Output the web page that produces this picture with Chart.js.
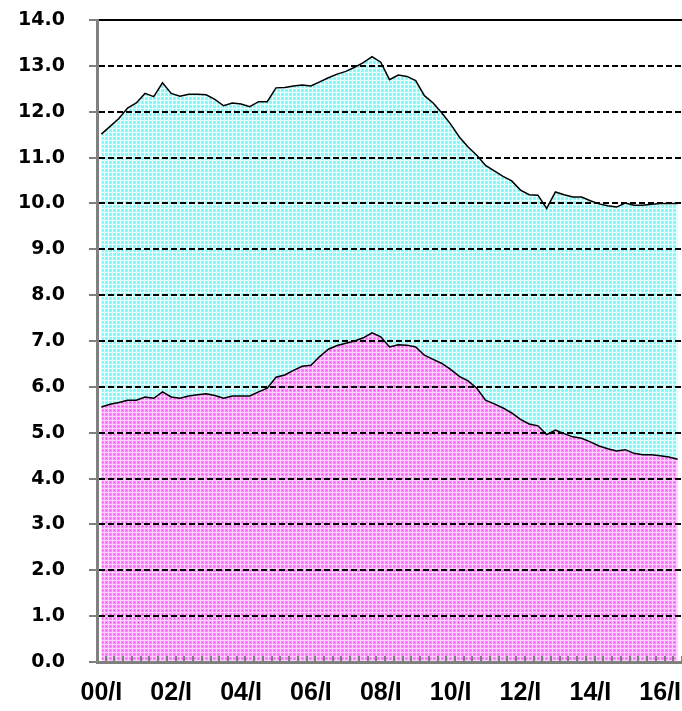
<!DOCTYPE html>
<html>
<head>
<meta charset="utf-8">
<script src="https://cdn.jsdelivr.net/npm/chart.js@4.4.1/dist/chart.umd.min.js"></script>
<style>
html, body { margin: 0; padding: 0; background: #fff; }
#chart { display: block; }
</style>
</head>
<body>
<canvas id="chart" width="682" height="711"></canvas>
<script>
// Quarterly series, 00/I .. 16/III
const years = ['00', '01', '02', '03', '04', '05', '06', '07', '08', '09', '10', '11', '12', '13', '14', '15', '16'];
const quarters = ['I', 'II', 'III', 'IV'];
const quarterCount = 67;

// upper (cyan) series
const totalValues = [
    11.51, 11.68, 11.85, 12.08, 12.19, 12.40, 12.33, 12.63, 12.40, 12.34,
    12.38, 12.38, 12.37, 12.27, 12.13, 12.19, 12.17, 12.11, 12.22, 12.22,
    12.52, 12.53, 12.56, 12.58, 12.56, 12.65, 12.74, 12.82, 12.88, 12.97,
    13.07, 13.20, 13.08, 12.70, 12.80, 12.77, 12.68, 12.35, 12.19, 11.97,
    11.73, 11.45, 11.23, 11.05, 10.83, 10.71, 10.59, 10.49, 10.29, 10.19,
    10.18, 9.89, 10.25, 10.19, 10.14, 10.14, 10.06, 9.99, 9.95, 9.92,
    10.01, 9.96, 9.96, 9.98, 10.00, 10.00, 10.00
];

// lower (magenta) series
const lowerValues = [
    5.56, 5.62, 5.66, 5.71, 5.71, 5.78, 5.75, 5.89, 5.78, 5.75,
    5.80, 5.83, 5.85, 5.81, 5.75, 5.80, 5.80, 5.80, 5.89, 5.97,
    6.21, 6.26, 6.36, 6.45, 6.47, 6.66, 6.82, 6.90, 6.95, 7.00,
    7.07, 7.18, 7.09, 6.87, 6.92, 6.91, 6.87, 6.69, 6.60, 6.51,
    6.38, 6.23, 6.13, 5.97, 5.71, 5.63, 5.54, 5.43, 5.29, 5.19,
    5.15, 4.96, 5.06, 4.98, 4.91, 4.88, 4.80, 4.71, 4.65, 4.60,
    4.63, 4.55, 4.52, 4.52, 4.50, 4.47, 4.42
];

const labels = [];
for (let i = 0; i < quarterCount; i++) {
    labels.push(years[Math.floor(i / 4)] + '/' + quarters[i % 4]);
}

// small textured fills like the original office chart
function makePattern(base, light, dark) {
    const c = document.createElement('canvas');
    c.width = 4; c.height = 4;
    const g = c.getContext('2d');
    g.fillStyle = base;
    g.fillRect(0, 0, 4, 4);
    g.fillStyle = light;
    g.fillRect(0, 0, 4, 1);
    g.fillRect(0, 0, 1, 4);
    g.fillStyle = dark;
    g.fillRect(2, 2, 1, 1);
    return g.createPattern(c, 'repeat');
}
const cyanFill = makePattern('#90fafa', '#e8ffff', '#78eeee');
const pinkFill = makePattern('#fa8cfa', '#ffd0ff', '#e848e8');

// inward tick marks on the category axis
const innerTicks = {
    id: 'innerTicks',
    afterDraw(chart) {
        const x = chart.scales.x;
        const ctx = chart.ctx;
        const half = (x.getPixelForValue(1) - x.getPixelForValue(0)) / 2;
        const bottom = chart.chartArea.bottom;
        ctx.save();
        ctx.strokeStyle = '#808080';
        ctx.lineWidth = 2;
        ctx.beginPath();
        for (let i = 0; i < quarterCount; i++) {
            const px = Math.round(x.getPixelForValue(i) + half);
            ctx.moveTo(px, bottom);
            ctx.lineTo(px, bottom - 6);
        }
        ctx.stroke();
        ctx.restore();
    }
};

new Chart(document.getElementById('chart'), {
    type: 'line',
    data: {
        labels: labels,
        datasets: [
            {
                data: lowerValues,
                borderColor: '#000',
                borderWidth: 1.5,
                backgroundColor: pinkFill,
                fill: 'origin',
                pointRadius: 0,
                tension: 0
            },
            {
                data: totalValues,
                borderColor: '#000',
                borderWidth: 1.5,
                backgroundColor: cyanFill,
                fill: '-1',
                pointRadius: 0,
                tension: 0
            }
        ]
    },
    options: {
        responsive: false,
        animation: false,
        layout: { padding: { top: 20, right: 0, left: 0, bottom: 0 } },
        plugins: {
            legend: { display: false },
            tooltip: { enabled: false }
        },
        scales: {
            x: {
                type: 'category',
                offset: true,
                grid: { display: false, drawTicks: false },
                border: { display: true, color: '#808080', width: 3, z: 1 },
                ticks: {
                    autoSkip: false,
                    maxRotation: 0,
                    padding: 16,
                    color: '#000',
                    font: { family: '"Liberation Sans", Arial, sans-serif', size: 25, weight: 'bold' },
                    callback: (val, i) => (i % 8 === 0 ? labels[i] : '')
                },
                afterFit: (s) => {
                    s.height = 49;
                    s.paddingLeft = 0;
                    s.paddingRight = 0;
                }
            },
            y: {
                min: 0,
                max: 14,
                grid: {
                    z: 1,
                    color: (ctx) => (ctx.tick && ctx.tick.value === 0 ? 'rgba(0,0,0,0)' : '#000'),
                    lineWidth: 2,
                    drawTicks: true,
                    tickLength: 8,
                    tickColor: '#808080',
                    tickWidth: 2
                },
                border: {
                    display: true,
                    z: 1,
                    color: '#808080',
                    width: 3,
                    dash: (ctx) => (ctx.tick && ctx.tick.value === 14 ? [] : [6, 3])
                },
                ticks: {
                    stepSize: 1,
                    padding: 24,
                    color: '#000',
                    font: { family: '"DejaVu Sans", Verdana, sans-serif', size: 19, weight: 'bold' },
                    callback: (v) => v.toFixed(1)
                },
                afterFit: (s) => {
                    s.width = 97;
                    s.paddingTop = 0;
                    s.paddingBottom = 0;
                }
            }
        }
    },
    plugins: [innerTicks]
});
</script>
</body>
</html>
